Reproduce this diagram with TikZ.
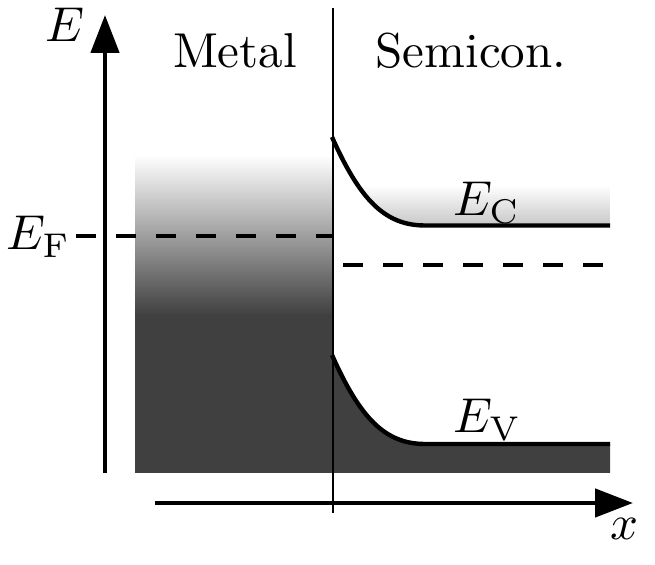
\documentclass[tikz,border=0pt]{standalone}
\usetikzlibrary{arrows.meta}
\definecolor{bandfill}{HTML}{404040}
\newcommand{\bigtxt}[1]{\scalebox{2.45}{\fontsize{10}{12}\selectfont #1}}
\begin{document}
\begin{tikzpicture}[x=0.5pt,y=-0.5pt,
  lbl/.style={inner sep=0pt},
  axisline/.style={line width=2.35pt,-{Triangle[length=19pt,width=14pt]}},
  bandline/.style={line width=2.2pt},
  fermi/.style={line width=2.3pt,dash pattern=on 10pt off 10pt},
  iface/.style={line width=1pt}]
\useasboundingbox (0,0) rectangle (655,565);
% metal band
\shade[top color=white,bottom color=bandfill] (135,155) rectangle (332.5,315);
\fill[bandfill] (135,314.5) rectangle (332.5,473);
% semiconductor conduction shading
\begin{scope}
\clip (332,137) .. controls (360,200) and (385,225.5) .. (425,225.5) -- (610,225.5) -- (610,100) -- (332,100) -- cycle;
\shade[top color=white,bottom color=black!22] (332,185) rectangle (610,225.5);
\end{scope}
% valence fill
\fill[bandfill] (332,355) .. controls (360,418) and (385,444) .. (425,444) -- (610,444) -- (610,473) -- (332,473) -- cycle;
% coordinates
\coordinate (ytop) at (105,15);
\coordinate (ybot) at (105,473);
\coordinate (xl) at (155,503);
\coordinate (xr) at (633,503);
\coordinate (itop) at (332.5,8);
\coordinate (ibot) at (332.5,513);
\coordinate (c0) at (332,137);
\coordinate (c1) at (425,225.5);
\coordinate (c2) at (610,225.5);
\coordinate (v0) at (332,355);
\coordinate (v1) at (425,444);
\coordinate (v2) at (610,444);
\coordinate (fl) at (76,236);
\coordinate (fr) at (332,236);
\coordinate (sl) at (343,265);
\coordinate (sr) at (603,265);
% lines
\draw[iface] (itop) -- (ibot);
\draw[axisline] (ybot) -- (ytop);
\draw[axisline] (xl) -- (xr);
\draw[bandline] (c0) .. controls (360,200) and (385,225.5) .. (c1) -- (c2);
\draw[bandline] (v0) .. controls (360,418) and (385,444) .. (v1) -- (v2);
\draw[fermi] (fl) -- (fr);
\draw[fermi] (sl) -- (sr);
% labels
\node[lbl] (E) at (65,25) {\bigtxt{$E$}};
\node[lbl] (x) at (625,529) {\bigtxt{$x$}};
\node[lbl,anchor=base] (metal) at (235,68) {\bigtxt{Metal}};
\node[lbl,anchor=base] (semi) at (471,68) {\bigtxt{Semicon.}};
\node[lbl,anchor=base west] (EF) at (6,250) {\bigtxt{$E_{\mathrm{F}}$}};
\node[lbl,anchor=base west] (EC) at (453,216) {\bigtxt{$E_{\mathrm{C}}$}};
\node[lbl,anchor=base west] (EV) at (453,433) {\bigtxt{$E_{\mathrm{V}}$}};
\end{tikzpicture}
\end{document}
